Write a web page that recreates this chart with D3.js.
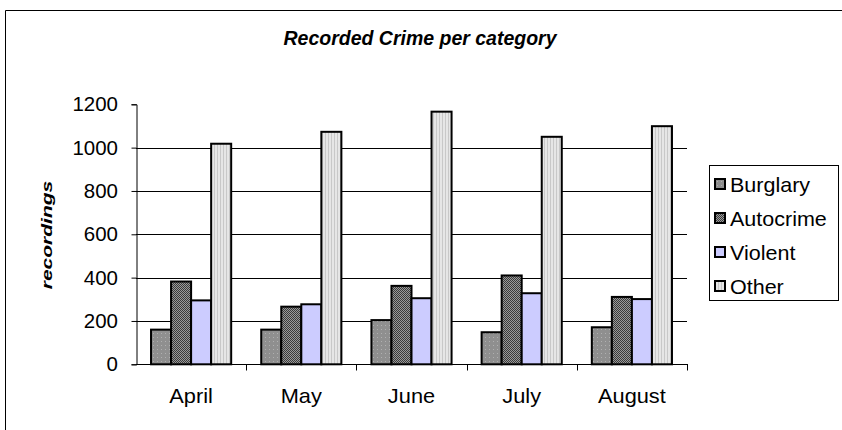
<!DOCTYPE html>
<html><head><meta charset="utf-8">
<script src="https://cdn.jsdelivr.net/npm/d3@7"></script>
<style>body{margin:0;background:#fff}svg{display:block}</style>
</head><body>
<script>
const categories = ["April","May","June","July","August"];
const seriesNames = ["Burglary","Autocrime","Violent","Other"];
const burglary = [160,160,204,148,171];
const autocrime = [382,266,362,410,311];
const violent = [295,277,305,328,301];
const other = [1018,1073,1166,1050,1099];
const yTicks = [0,200,400,600,800,1000,1200];
const seriesValues = [burglary, autocrime, violent, other];

(function(){
const W=842,H=430;
const FONT="Liberation Sans, Arial, sans-serif";
const svg=d3.select("body").append("svg").attr("width",W).attr("height",H);
const defs=svg.append("defs");
const p1=defs.append("pattern").attr("id","pBurg").attr("width",4).attr("height",4).attr("patternUnits","userSpaceOnUse");
p1.append("rect").attr("width",4).attr("height",4).attr("fill","#8f8f8f");
p1.append("rect").attr("x",1).attr("y",1).attr("width",1).attr("height",1).attr("fill","#b0b0b0");
const p2=defs.append("pattern").attr("id","pAuto").attr("width",2).attr("height",2).attr("patternUnits","userSpaceOnUse");
p2.append("rect").attr("width",2).attr("height",2).attr("fill","#9a9a9a");
p2.append("rect").attr("width",1).attr("height",1).attr("fill","#3a3a3a");
p2.append("rect").attr("x",1).attr("y",1).attr("width",1).attr("height",1).attr("fill","#3a3a3a");
const p4=defs.append("pattern").attr("id","pOther").attr("width",3).attr("height",3).attr("patternUnits","userSpaceOnUse");
p4.append("rect").attr("width",3).attr("height",3).attr("fill","#e6e6e6");
p4.append("rect").attr("x",1).attr("width",1).attr("height",3).attr("fill","#c8c8c8");
const fills=["url(#pBurg)","url(#pAuto)","#ccccff","url(#pOther)"];

function label(parent,x,y,txt,opts){
  const o=Object.assign({size:18,sx:1,anchor:"start",weight:"normal",style:"normal",rot:0},opts||{});
  return parent.append("text")
    .attr("transform",`translate(${x},${y})`+(o.rot?` rotate(${o.rot})`:"")+` scale(${o.sx},1)`)
    .attr("text-anchor",o.anchor).attr("font-family",FONT).attr("font-size",o.size)
    .attr("font-weight",o.weight).attr("font-style",o.style).attr("fill","#000").text(txt);
}

svg.append("path").attr("d","M5.5,431 V10.5 H843").attr("fill","none").attr("stroke","#000").attr("stroke-width",1);

const pL=136,pR=687,pT=104.3,pB=364.3;
const x0=d3.scaleBand().domain(categories).range([pL,pR]).paddingInner(0.2727).paddingOuter(0.1364);
const x1=d3.scaleBand().domain(seriesNames).range([0,x0.bandwidth()]);
const y=d3.scaleLinear().domain([0,1200]).range([pB,pT]);

svg.append("g").selectAll("line").data(yTicks.filter(t=>t>0&&t<1200)).join("line")
 .attr("x1",pL).attr("x2",pR).attr("y1",d=>Math.round(y(d))+0.5).attr("y2",d=>Math.round(y(d))+0.5)
 .attr("stroke","#000").attr("stroke-width",1);

const g=svg.append("g");
categories.forEach((c,i)=>{
  seriesNames.forEach((s,j)=>{
    const v=seriesValues[j][i];
    g.append("rect").attr("x",x0(c)+x1(s)).attr("y",y(v)).attr("width",x1.bandwidth()).attr("height",pB-y(v))
     .attr("fill",fills[j]).attr("stroke","#000").attr("stroke-width",2);
  });
});

const yAxis=d3.axisLeft(y).tickValues(yTicks).tickSize(5).tickFormat("");
const ya=svg.append("g").attr("transform",`translate(${pL+0.5},0)`).call(yAxis);
ya.select(".domain").attr("stroke","#000");
ya.selectAll(".tick line").attr("stroke","#000");
yTicks.forEach(t=>label(svg,118,y(t)+7,d3.format("d")(t),{size:19.5,sx:1.05,anchor:"end"}));

const xa=svg.append("g").attr("transform",`translate(0,${Math.round(pB)+0.5})`);
xa.append("line").attr("x1",pL).attr("x2",pR+1).attr("stroke","#000");
const bounds=categories.map((c,i)=>pL+(pR-pL)*(i+1)/categories.length);
xa.selectAll("line.t").data(bounds).join("line").attr("class","t")
 .attr("x1",d=>Math.round(d)+0.5).attr("x2",d=>Math.round(d)+0.5).attr("y1",0).attr("y2",6).attr("stroke","#000");
categories.forEach(c=>label(svg,x0(c)+x0.bandwidth()/2,403,c,{size:20,sx:1.09,anchor:"middle"}));

label(svg,420,45,"Recorded Crime per category",{size:19.5,sx:1.0,anchor:"middle",weight:"bold",style:"italic"});
label(svg,52,235,"recordings",{size:15,sx:1.4,anchor:"middle",weight:"bold",style:"italic",rot:-90});

const lg=svg.append("g");
lg.append("rect").attr("x",709.5).attr("y",165.5).attr("width",129).attr("height",135).attr("fill","#fff").attr("stroke","#000");
seriesNames.forEach((s,j)=>{
  const cy=184+j*34;
  lg.append("rect").attr("x",715).attr("y",cy-5).attr("width",10).attr("height",10).attr("fill",fills[j]).attr("stroke","#000").attr("stroke-width",2);
  label(lg,730,cy+7.5,s,{size:20.5,sx:1.05});
});
})();
</script>
</body></html>
